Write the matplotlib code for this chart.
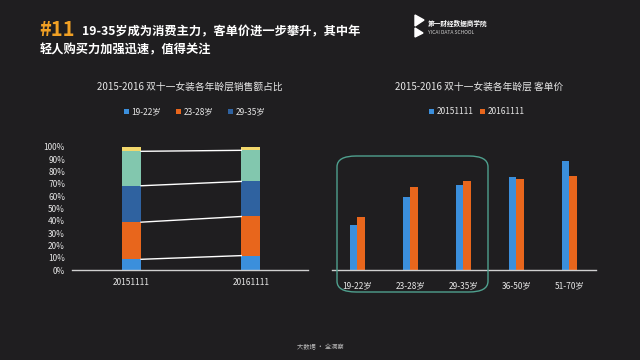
import numpy as np
import matplotlib
matplotlib.use("Agg")
import matplotlib.pyplot as plt
from matplotlib.patches import FancyBboxPatch, Polygon

plt.rcParams['font.family'] = ['Noto Sans CJK SC', 'DejaVu Sans']

# share of sales by age group (stacked, %)
years = ["20151111", "20161111"]
share_1922 = [8.7, 11.7]
share_2328 = [30.2, 31.8]
share_2935 = [29.6, 28.5]
share_other = [28.0, 25.3]
share_top = [3.5, 2.7]

# average order value by age group (relative units)
age_groups = ["19-22岁", "23-28岁", "29-35岁", "36-50岁", "51-70岁"]
aov_2015 = [135, 220, 255, 280, 328]
aov_2016 = [160, 248, 267, 273, 282]

bg = "#1f1e20"
c_lblue = "#3b8fdc"
c_orange = "#e8661c"
c_blue = "#2f62a0"
c_teal = "#82c7ae"
c_yellow = "#f2d86c"
txt = "#e6e6e6"

fig = plt.figure(figsize=(6.4, 3.6), dpi=100, facecolor=bg)

# header
fig.text(39 / 640, 1 - 29 / 360, "#11", color="#f0a024", fontsize=14.5,
         fontweight="bold", va="center", ha="left")
fig.text(82 / 640, 1 - 32 / 360, "19-35岁成为消费主力，客单价进一步攀升，其中年",
         color="white", fontsize=8.8, fontweight="bold", va="center", ha="left")
fig.text(40 / 640, 1 - 50 / 360, "轻人购买力加强迅速，值得关注",
         color="white", fontsize=8.8, fontweight="bold", va="center", ha="left")

# logo
fig.patches.append(Polygon([[415 / 640, 1 - 15 / 360], [415 / 640, 1 - 26 / 360],
                            [424 / 640, 1 - 20 / 360]], closed=True,
                           transform=fig.transFigure, color="white"))
fig.patches.append(Polygon([[415 / 640, 1 - 28 / 360], [415 / 640, 1 - 37 / 360],
                            [423 / 640, 1 - 33 / 360]], closed=True,
                           transform=fig.transFigure, color="white"))
fig.text(428 / 640, 1 - 23 / 360, "第一财经数据商学院", color="white", fontsize=4.8,
         fontweight="bold", va="center", ha="left")
fig.text(428 / 640, 1 - 32 / 360, "YICAI DATA SCHOOL", color="#cccccc", fontsize=3.6,
         va="center", ha="left")

fig.text(320 / 640, 1 - 347 / 360, "大数据 · 全洞察", color="#bbbbbb", fontsize=4.5,
         va="center", ha="center")

# left: stacked percentage bars
ax1 = fig.add_axes([72 / 640, 90 / 360, 236 / 640, 123 / 360])
ax1.set_facecolor(bg)
x = np.arange(len(years))
w = 0.16
series = [share_1922, share_2328, share_2935, share_other, share_top]
colors = [c_lblue, c_orange, c_blue, c_teal, c_yellow]
labels = ["19-22岁", "23-28岁", "29-35岁", None, None]
bottom = np.zeros(len(years))
handles = []
for vals, col, lab in zip(series, colors, labels):
    b = ax1.bar(x, vals, w, bottom=bottom, color=col)
    if lab:
        handles.append((b, lab))
    bottom = bottom + np.array(vals)
    if bottom[0] < 99.9:
        ax1.plot([x[0] + w / 2, x[1] - w / 2], [bottom[0], bottom[1]],
                 color="white", lw=1)
ax1.set_xlim(-0.5, 1.48)
ax1.set_ylim(0, 100)
ax1.set_yticks(np.arange(0, 101, 10))
ax1.set_yticklabels([f"{v}%" for v in range(0, 101, 10)])
ax1.set_xticks(x)
ax1.set_xticklabels(years)
ax1.tick_params(colors=txt, labelsize=6, length=0)
ax1.tick_params(axis="y", pad=5)
ax1.tick_params(axis="x", pad=6)
for s in ["top", "right", "left"]:
    ax1.spines[s].set_visible(False)
ax1.spines["bottom"].set_color("#d0d0d0")
ax1.spines["bottom"].set_linewidth(1)
ax1.set_title("2015-2016 双十一女装各年龄层销售额占比", color=txt, fontsize=7,
              y=1.40)
ax1.legend([h for h, _ in handles], [l for _, l in handles], loc="center",
           bbox_to_anchor=(0.52, 1.285), ncol=3, frameon=False, fontsize=6,
           labelcolor=txt, handlelength=0.6, handleheight=0.6,
           handletextpad=0.3, columnspacing=1.8)

# right: grouped bars of average order value
ax2 = fig.add_axes([332 / 640, 90 / 360, 264 / 640, 123 / 360])
ax2.set_facecolor(bg)
xg = np.arange(len(age_groups))
bw = 0.14
ax2.bar(xg - bw / 2, aov_2015, bw, color=c_lblue, label="20151111")
ax2.bar(xg + bw / 2, aov_2016, bw, color=c_orange, label="20161111")
ax2.set_xlim(-0.48, 4.5)
ax2.set_ylim(0, 369)
ax2.set_yticks([])
ax2.set_xticks(xg)
ax2.set_xticklabels(age_groups)
ax2.tick_params(colors=txt, labelsize=6, length=0, pad=8)
for s in ["top", "right", "left"]:
    ax2.spines[s].set_visible(False)
ax2.spines["bottom"].set_color("#d0d0d0")
ax2.spines["bottom"].set_linewidth(1)
ax2.set_title("2015-2016 双十一女装各年龄层 客单价", color=txt, fontsize=7,
              x=0.557, y=1.40)
ax2.legend(loc="center", bbox_to_anchor=(0.55, 1.285), ncol=2, frameon=False,
           fontsize=6, labelcolor=txt, handlelength=0.6, handleheight=0.6,
           handletextpad=0.3, columnspacing=0.8)

# highlight box around young age groups
box = FancyBboxPatch((337 / 640, 1 - 292 / 360), 151 / 640, 136 / 360,
                     boxstyle="round,pad=0,rounding_size=0.03",
                     transform=fig.transFigure, fill=False,
                     edgecolor="#4fa08e", lw=1)
fig.patches.append(box)

fig.savefig("out.png", dpi=100, facecolor=bg)
